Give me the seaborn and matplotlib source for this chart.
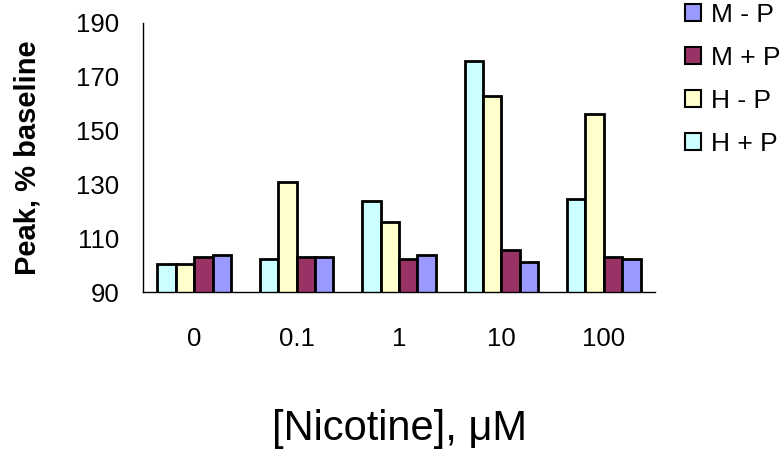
import matplotlib
matplotlib.use("Agg")
import matplotlib.pyplot as plt
import seaborn as sns
import pandas as pd
import numpy as np
from matplotlib.patches import Patch

categories = ["0", "0.1", "1", "10", "100"]
h_plus_p = [100.4, 102.1, 123.8, 176.0, 124.7]
h_minus_p = [100.4, 130.8, 116.1, 163.0, 156.0]
m_plus_p = [103.1, 103.1, 102.1, 105.7, 103.1]
m_minus_p = [103.8, 103.0, 103.8, 101.2, 102.1]
series_names = ["H + P", "H - P", "M + P", "M - P"]
colors = ["#CCFFFF", "#FFFFCC", "#993366", "#9999FF"]
yticks = [90, 110, 130, 150, 170, 190]

rows = []
for name, vals in zip(series_names, [h_plus_p, h_minus_p, m_plus_p, m_minus_p]):
    for c, v in zip(categories, vals):
        rows.append({"conc": c, "series": name, "value": v})
df = pd.DataFrame(rows)

sns.set_theme(style="white")
plt.rcParams["font.family"] = ["Liberation Sans", "DejaVu Sans"]

fig = plt.figure(figsize=(7.83, 4.53), dpi=100)
ax = fig.add_axes([143 / 783, 1 - 292 / 453, (655 - 143) / 783, (292 - 23) / 453])

sns.barplot(data=df, x="conc", y="value", hue="series", order=categories,
            hue_order=series_names, palette=colors, width=0.72,
            edgecolor="black", linewidth=2.0, ax=ax, legend=False,
            errorbar=None, saturation=1)

ax.set_ylim(90, 190)
ax.set_xlim(-0.5, len(categories) - 0.5)
ax.set_yticks(yticks)
ax.set_yticklabels([str(t) for t in yticks], fontsize=18.5, color="black")
ax.set_xticks(range(len(categories)))
ax.set_xticklabels(categories, fontsize=18.5, color="black")
ax.set_xticks(np.arange(-0.5, len(categories)), minor=True)
ax.tick_params(axis="x", which="major", length=0, pad=25)
ax.tick_params(axis="x", which="minor", length=7, width=1, color="black", direction="out")
ax.tick_params(axis="y", which="major", length=7, width=1, color="black", direction="out", pad=10)

for s in ["top", "right"]:
    ax.spines[s].set_visible(False)
for s in ["left", "bottom"]:
    ax.spines[s].set_color("black")
    ax.spines[s].set_linewidth(1)

ax.set_ylabel("Peak, % baseline", fontsize=21, fontweight="bold", labelpad=25, color="black")
ax.set_xlabel("[Nicotine], μM", fontsize=30, labelpad=42, color="black")

handles = [Patch(facecolor=c, edgecolor="black", linewidth=1.5, label=n)
           for n, c in zip(series_names, colors)][::-1]
fig.legend(handles=handles, loc="upper left", bbox_to_anchor=(685 / 783, 1 - 3 / 453),
           frameon=False, fontsize=19, handlelength=0.6, handleheight=0.6,
           handletextpad=0.4, labelspacing=0.72, borderpad=0, borderaxespad=0,
           labelcolor="black")

fig.savefig("out.png", dpi=100, facecolor="white")
